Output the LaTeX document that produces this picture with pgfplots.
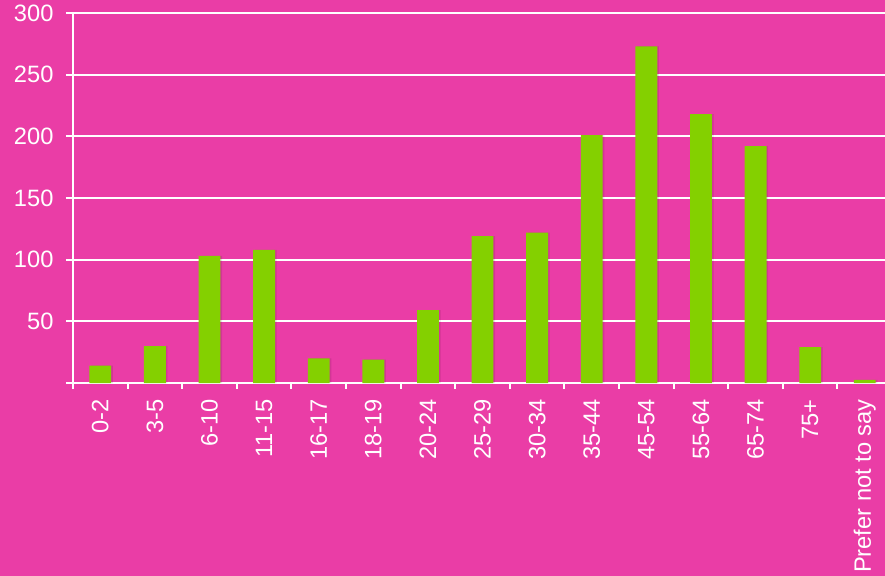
\documentclass[border=0pt]{standalone}
\usepackage{fontspec}
\setmainfont{Liberation Sans}
\usepackage{pgfplots}
\pgfplotsset{compat=1.18}
\definecolor{pinkbg}{HTML}{EA3DA6}
\definecolor{barg}{HTML}{84D000}

\begin{document}
\begin{tikzpicture}
% background, 1px = 0.6pt
\fill[pinkbg] (-43.8pt,-115.8pt) rectangle (487.2pt,229.8pt);
\begin{axis}[
  scale only axis,
  width=487.2pt, height=222pt,
  xmin=-0.5, xmax=14.37, ymin=0, ymax=300,
  axis x line*=bottom, axis y line*=left,
  axis line style={white, line width=1.2pt, -},
  every tick/.style={white, line width=1.2pt},
  tick align=outside,
  major tick length=4.2pt,
  ytick={0,50,...,300},
  yticklabels={,50,100,150,200,250,300},
  xtick={0,...,14},
  xticklabels={0-2,3-5,6-10,11-15,16-17,18-19,20-24,25-29,30-34,35-44,45-54,55-64,65-74,75+,Prefer not to say},
  major x tick style={draw=none},
  minor xtick={-0.5,0.5,...,13.5},
  minor x tick style={white, line width=1.2pt},
  minor tick length=3.6pt,
  ymajorgrids,
  grid style={white, line width=1.2pt},
  ticklabel style={font=\fontsize{14.2pt}{16pt}\selectfont, text=white},
  xticklabel style={rotate=90, anchor=east},
  xticklabel shift=2pt,
  yticklabel style={anchor=east},
  yticklabel shift=4pt,
  clip=false,
]
  % faint shadow
  \addplot[ybar, bar width=0.4, bar shift=0.03, fill=black, fill opacity=0.1, draw=none] coordinates {
    (0,14) (1,30) (2,103) (3,108) (4,20) (5,19) (6,59) (7,119)
    (8,122) (9,201) (10,273) (11,218) (12,192) (13,29) (14,2.5)
  };
  \addplot[ybar, bar width=0.4, bar shift=0, fill=barg, draw=none] coordinates {
    (0,14) (1,30) (2,103) (3,108) (4,20) (5,19) (6,59) (7,119)
    (8,122) (9,201) (10,273) (11,218) (12,192) (13,29) (14,2.5)
  };
\end{axis}
\pgfresetboundingbox
\useasboundingbox (-43.8pt,-115.8pt) rectangle (487.2pt,229.8pt);
\end{tikzpicture}
\end{document}
